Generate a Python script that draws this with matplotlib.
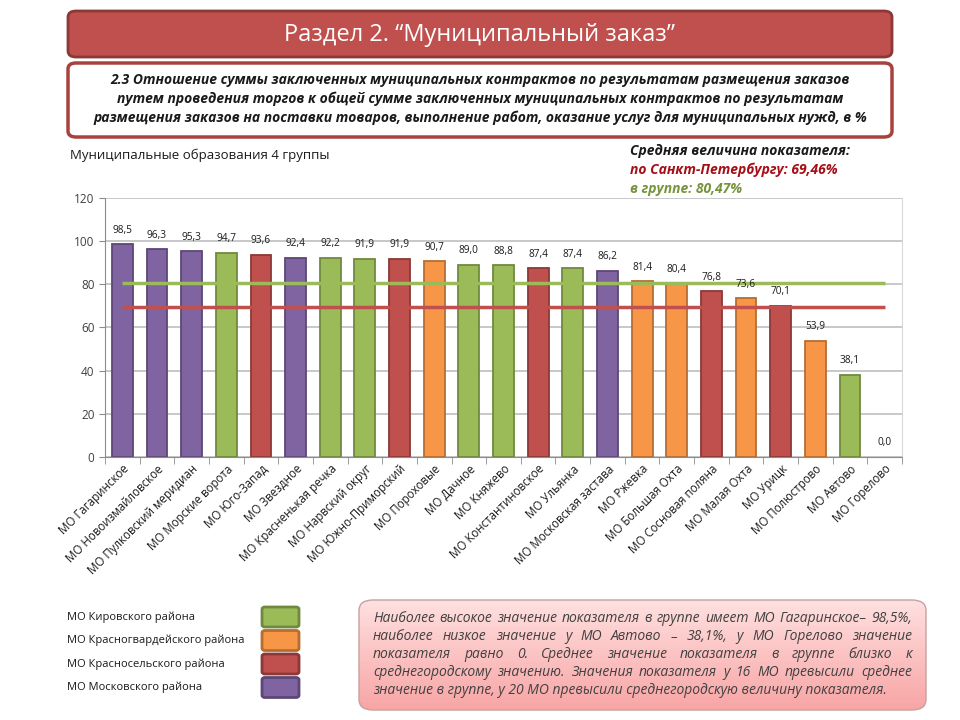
import numpy as np
import matplotlib
matplotlib.use("Agg")
import matplotlib.pyplot as plt
from matplotlib.patches import FancyBboxPatch

plt.rcParams['font.family'] = ['Open Sans', 'DejaVu Sans']

names = ['МО Гагаринское', 'МО Новоизмайловское', 'МО Пулковский меридиан',
         'МО Морские ворота', 'МО Юго-Запад', 'МО Звездное',
         'МО Красненькая речка', 'МО Нарвский округ', 'МО Южно-Приморский',
         'МО Пороховые', 'МО Дачное', 'МО Княжево', 'МО Константиновское',
         'МО Ульянка', 'МО Московская застава', 'МО Ржевка', 'МО Большая Охта',
         'МО Сосновая поляна', 'МО Малая Охта', 'МО Урицк', 'МО Полюстрово',
         'МО Автово', 'МО Горелово']
values = [98.5, 96.3, 95.3, 94.7, 93.6, 92.4, 92.2, 91.9, 91.9, 90.7, 89.0,
          88.8, 87.4, 87.4, 86.2, 81.4, 80.4, 76.8, 73.6, 70.1, 53.9, 38.1, 0.0]
district = ['mos', 'mos', 'mos', 'kir', 'ksel', 'mos', 'kir', 'kir', 'ksel',
            'kgv', 'kir', 'kir', 'ksel', 'kir', 'mos', 'kgv', 'kgv', 'ksel',
            'kgv', 'ksel', 'kgv', 'kir', 'kir']
spb_mean = 69.46
group_mean = 80.47

districts = ['kir', 'kgv', 'ksel', 'mos']
district_names = ['МО Кировского района', 'МО Красногвардейского района',
                  'МО Красносельского района', 'МО Московского района']
fill = {'kir': '#9BBB59', 'kgv': '#F79646', 'ksel': '#C0504D', 'mos': '#8064A2'}
edge = {'kir': '#71893F', 'kgv': '#B66D31', 'ksel': '#8C3836', 'mos': '#5C4776'}

W, H = 960, 720
fig = plt.figure(figsize=(W / 100, H / 100), dpi=100)


def fx(px):
    return px / W


def fy(py):
    return 1 - py / H


def rbox(x0, y0, x1, y1, face, edgec, lw, pad=8, grad=None):
    p = FancyBboxPatch((fx(x0), fy(y1)), fx(x1 - x0), (y1 - y0) / H,
                       boxstyle="round,pad=0,rounding_size=%f" % (pad / W),
                       transform=fig.transFigure, facecolor=face,
                       edgecolor=edgec, linewidth=lw, zorder=1)
    fig.add_artist(p)
    if grad is not None:
        gax = fig.add_axes([fx(x0), fy(y1), fx(x1 - x0), (y1 - y0) / H], zorder=0)
        gax.axis('off')
        c0 = np.array(matplotlib.colors.to_rgb(grad[0]))
        c1 = np.array(matplotlib.colors.to_rgb(grad[1]))
        t = np.linspace(0, 1, 64)[:, None, None]
        img = c0 + (c1 - c0) * t
        img = np.repeat(img, 4, axis=1)
        im = gax.imshow(img, aspect='auto', extent=(0, 1, 0, 1), origin='upper')
        clip = FancyBboxPatch((fx(x0), fy(y1)), fx(x1 - x0), (y1 - y0) / H,
                              boxstyle="round,pad=0,rounding_size=%f" % (pad / W),
                              transform=fig.transFigure)
        im.set_clip_path(clip)
        p.set_facecolor('none')
        p.set_zorder(2)
        gax.set_zorder(1)
    return p


def justified(line, x0, x1, y, **kw):
    # spread words of one line evenly between x0 and x1 (pixels)
    words = line.split(' ')
    r = fig.canvas.get_renderer()
    arts = [fig.text(0, fy(y), w, ha='left', va='center', **kw) for w in words]
    widths = [a.get_window_extent(r).width for a in arts]
    gap = (x1 - x0 - sum(widths)) / max(len(words) - 1, 1)
    pos = x0
    for a, w in zip(arts, widths):
        a.set_x(fx(pos))
        pos += w + gap


# header bars
rbox(68, 11, 892, 57, '#C0504D', '#8C3836', 2.0, pad=8)
fig.text(fx(480), fy(35), 'Раздел 2. “Муниципальный заказ”', color='white',
         fontsize=17, ha='center', va='center', zorder=5)
rbox(68, 63, 892, 137, 'white', '#A8423F', 2.5, pad=8)
sub_lines = ['2.3 Отношение суммы заключенных муниципальных контрактов по результатам размещения заказов',
             'путем проведения торгов к общей сумме заключенных муниципальных контрактов по результатам',
             'размещения заказов на поставки товаров, выполнение работ, оказание услуг для муниципальных нужд, в %']
for i, s in enumerate(sub_lines):
    fig.text(fx(480), fy(80 + i * 19), s, fontsize=10, fontweight='bold',
             fontstyle='italic', ha='center', va='center', color='#1a1a1a', zorder=5)

fig.text(fx(70), fy(155), 'Муниципальные образования 4 группы', fontsize=9.5,
         ha='left', va='center', color='#1a1a1a')
fig.text(fx(630), fy(151), 'Средняя величина показателя:', fontsize=10,
         fontweight='bold', fontstyle='italic', ha='left', va='center', color='#1a1a1a')
fig.text(fx(630), fy(170), 'по Санкт-Петербургу: 69,46%', fontsize=10,
         fontweight='bold', fontstyle='italic', ha='left', va='center', color='#A50F15')
fig.text(fx(630), fy(189), 'в группе: 80,47%', fontsize=10,
         fontweight='bold', fontstyle='italic', ha='left', va='center', color='#77933C')

# chart
ax = fig.add_axes([fx(105), fy(457), fx(902 - 105), (457 - 198) / H])
x = np.arange(len(names))
ax.bar(x, values, width=0.6, color=[fill[d] for d in district],
       edgecolor=[edge[d] for d in district],
       linewidth=[1.3 if v > 0 else 0 for v in values], zorder=2)
ax.hlines(group_mean, 0, len(names) - 1, color='#9BBB59', linewidth=2.5, zorder=3)
ax.hlines(spb_mean, 0, len(names) - 1, color='#C0504D', linewidth=2.5, zorder=3)
for xi, v in zip(x, values):
    ax.text(xi, v + 4, ('%.1f' % v).replace('.', ','), ha='center', va='bottom',
            fontsize=7.3, color='#1a1a1a')

ax.set_xlim(-0.5, len(names) - 0.5)
ax.set_ylim(0, 120)
ax.set_yticks(np.arange(0, 121, 20))
ax.yaxis.grid(True, color='#BFBFBF', linewidth=1.2, zorder=0)
ax.set_axisbelow(True)
ax.set_xticks(x)
ax.set_xticklabels(names, rotation=45, ha='right', va='top',
                   rotation_mode='anchor', fontsize=8.3, color='#1a1a1a')
ax.set_xticks(np.arange(-0.5, len(names)), minor=True)
ax.tick_params(axis='x', which='major', length=0, pad=4)
ax.tick_params(axis='x', which='minor', length=5, color='#8C8C8C')
ax.tick_params(axis='y', length=4, color='#8C8C8C', labelsize=8.5, labelcolor='#404040')
for s in ['left', 'bottom']:
    ax.spines[s].set_color('#8C8C8C')
ax.spines['top'].set_visible(False)
ax.spines['right'].set_color('#D9D9D9')

# legend
for i, (d, nm) in enumerate(zip(districts, district_names)):
    yc = 617 + i * 23.5
    fig.text(fx(67), fy(yc), nm, fontsize=8, ha='left', va='center', color='#1a1a1a')
    rbox(262, yc - 10, 299, yc + 10, fill[d], edge[d], 2.0, pad=3)

# note box
rbox(359, 600, 926, 710, 'none', '#C8A0A0', 1.0, pad=14,
     grad=('#FFE0E0', '#F8A5A5'))
note = ['Наиболее высокое значение показателя в группе имеет МО Гагаринское– 98,5%,',
        'наиболее низкое значение у МО Автово – 38,1%, у МО Горелово значение',
        'показателя равно 0. Среднее значение показателя в группе близко к',
        'среднегородскому значению. Значения показателя у 16 МО превысили среднее',
        'значение в группе, у 20 МО превысили среднегородскую величину показателя.']
note_kw = dict(fontsize=10, fontstyle='italic', color='#404040', zorder=5)
for i, s in enumerate(note):
    yl = 619 + i * 17.8
    if i < len(note) - 1:
        justified(s, 373, 912, yl, **note_kw)
    else:
        fig.text(fx(373), fy(yl), s, ha='left', va='center', **note_kw)

fig.savefig('out.png', dpi=100)
